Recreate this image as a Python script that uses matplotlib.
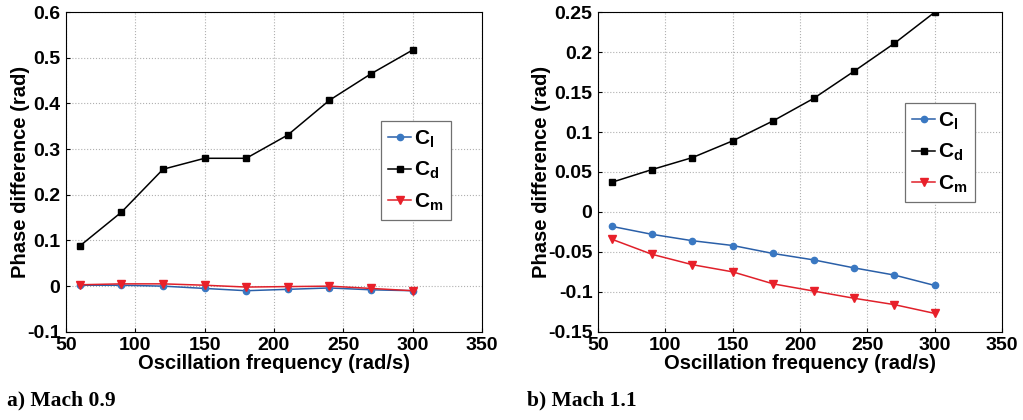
import matplotlib
matplotlib.use('Agg')
import matplotlib.pyplot as plt

plt.rcParams['font.family'] = 'Liberation Sans'
plt.rcParams['font.weight'] = 'bold'
plt.rcParams['mathtext.default'] = 'regular'

freq = [60, 90, 120, 150, 180, 210, 240, 270, 300]

# a) Mach 0.9
cl_a = [0.002, 0.002, 0.000, -0.005, -0.010, -0.007, -0.004, -0.008, -0.010]
cd_a = [0.088, 0.162, 0.256, 0.280, 0.280, 0.331, 0.407, 0.465, 0.517]
cm_a = [0.003, 0.005, 0.005, 0.002, -0.002, -0.001, 0.000, -0.005, -0.010]

# b) Mach 1.1
cl_b = [-0.018, -0.028, -0.036, -0.042, -0.052, -0.060, -0.070, -0.079, -0.092]
cd_b = [0.037, 0.053, 0.068, 0.089, 0.114, 0.142, 0.176, 0.211, 0.250]
cm_b = [-0.034, -0.053, -0.066, -0.075, -0.090, -0.099, -0.108, -0.116, -0.127]

labels = ['C$_l$', 'C$_d$', 'C$_m$']
xticks = [50, 100, 150, 200, 250, 300, 350]

fig = plt.figure(figsize=(10.23, 4.2), dpi=100)
ax1 = fig.add_axes([0.0645, 0.21, 0.4065, 0.761])
ax2 = fig.add_axes([0.5846, 0.21, 0.395, 0.761])


def panel(ax, cl, cd, cm, ylim, yticks, yticklabels, leg_anchor):
    ax.plot(freq, cl, '-o', color='#2a5fa8', mfc='#3a78c2', mec='#3a78c2', ms=4.5, lw=1.1, label=labels[0])
    ax.plot(freq, cd, '-s', color='black', ms=4.5, lw=1.1, label=labels[1])
    ax.plot(freq, cm, '-v', color='#e0202a', mfc='#e8202a', mec='#e8202a', ms=5.5, lw=1.1, label=labels[2])
    ax.set_xlim(50, 350)
    ax.set_ylim(*ylim)
    ax.set_xticks(xticks)
    ax.set_yticks(yticks)
    ax.set_yticklabels(yticklabels)
    ax.grid(True, color='#b0b0b0', ls=':', lw=0.8)
    ax.tick_params(labelsize=14, direction='in', length=3, pad=4)
    for s in ax.spines.values():
        s.set_linewidth(0.8)
    ax.set_xlabel('Oscillation frequency (rad/s)', fontsize=14.5, fontweight='bold', labelpad=0)
    ax.set_ylabel('Phase difference (rad)', fontsize=14.5, fontweight='bold', labelpad=-2)
    leg = ax.legend(loc='upper left', bbox_to_anchor=leg_anchor, bbox_transform=fig.transFigure,
                    fontsize=15, fancybox=False, framealpha=1, edgecolor='#707070',
                    handlelength=1.1, handletextpad=0.15, borderpad=0.35, labelspacing=0.5,
                    borderaxespad=0)
    leg.get_frame().set_linewidth(0.9)


panel(ax1, cl_a, cd_a, cm_a, (-0.1, 0.6),
      [-0.1, 0, 0.1, 0.2, 0.3, 0.4, 0.5, 0.6],
      ['-0.1', '0', '0.1', '0.2', '0.3', '0.4', '0.5', '0.6'],
      (381 / 1023, 1 - 121 / 420))
panel(ax2, cl_b, cd_b, cm_b, (-0.15, 0.25),
      [-0.15, -0.1, -0.05, 0, 0.05, 0.1, 0.15, 0.2, 0.25],
      ['-0.15', '-0.1', '-0.05', '0', '0.05', '0.1', '0.15', '0.2', '0.25'],
      (905 / 1023, 1 - 103 / 420))

fig.text(7 / 1023, 1 - 400 / 420, 'a) Mach 0.9', fontsize=15.5, fontweight='bold',
         family='Liberation Serif', va='center')
fig.text(527 / 1023, 1 - 400 / 420, 'b) Mach 1.1', fontsize=15.5, fontweight='bold',
         family='Liberation Serif', va='center')

fig.savefig('out.png', dpi=100)
